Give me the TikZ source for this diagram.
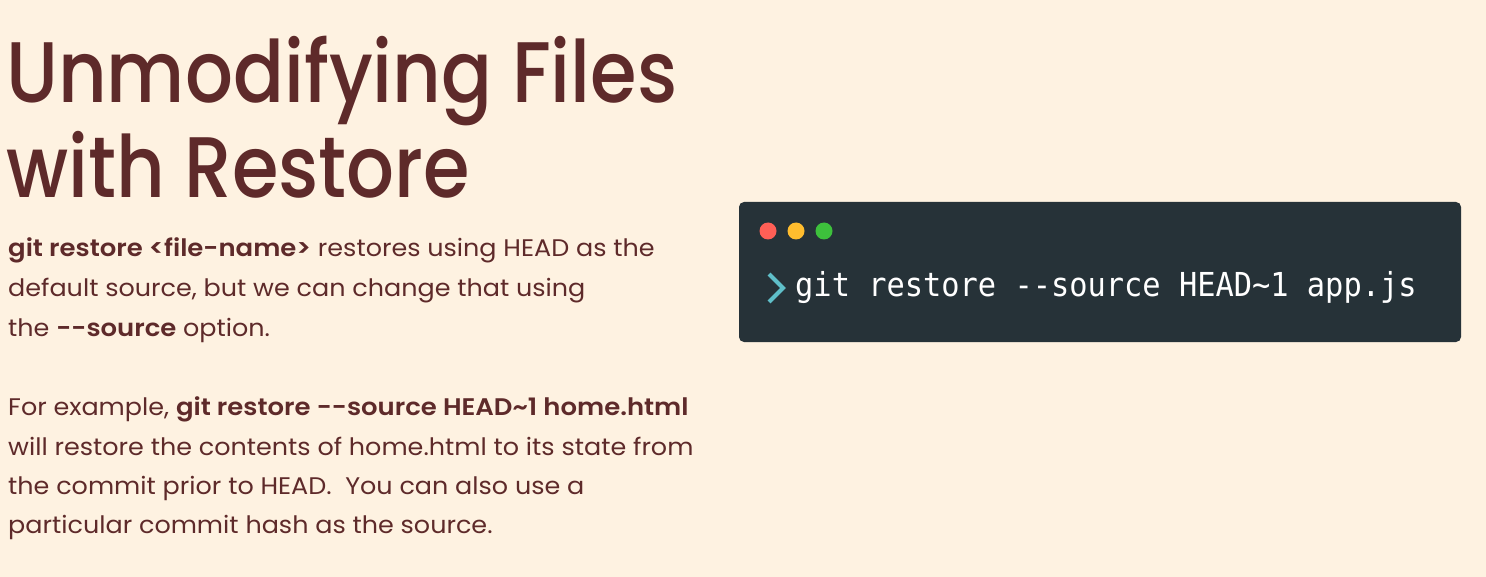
\documentclass[tikz,border=0pt]{standalone}
\usepackage{fontspec}
\IfFontExistsTF{Poppins SemiBold}{%
  \setmainfont[FakeStretch=1.06, BoldFont={Poppins SemiBold}, BoldFeatures={FakeStretch=1.08}]{Poppins}}{%
  \setmainfont[FakeStretch=1.06]{Poppins}}
\IfFontExistsTF{Poppins Medium}{%
  \newfontfamily\titlef[FakeStretch=0.875]{Poppins Medium}}{%
  \newfontfamily\titlef[FakeStretch=0.88, FakeBold=1.2]{Poppins}}
\newfontfamily\monof[FakeStretch=0.92]{DejaVu Sans Mono}
\definecolor{bgc}{HTML}{FEF2E1}
\definecolor{txt}{HTML}{5E2A2A}
\definecolor{term}{HTML}{263238}
\definecolor{dred}{HTML}{FF5F56}
\definecolor{dyel}{HTML}{FFBD2E}
\definecolor{dgrn}{HTML}{3DC13C}
\definecolor{chev}{HTML}{5FBFC9}
\tikzset{
  title/.style={anchor=base west, inner sep=0pt, text=txt, font=\titlef\fontsize{86}{90}\selectfont},
  body/.style={anchor=base west, inner sep=0pt, text=txt, font=\fontsize{24}{28}\selectfont},
  cmd/.style={anchor=base west, inner sep=0pt, text=white, font=\monof\fontsize{33}{36}\selectfont},
  dot/.style={circle, inner sep=0pt, minimum size=17pt}
}
\begin{document}
\begin{tikzpicture}[x=1pt,y=-1pt]
\fill[bgc] (0,0) rectangle (1486,577);
\useasboundingbox (0,0) rectangle (1486,577);
\node[title] (t1) at (6,103) {Unmodifying Files};
\node[title] (t2) at (6,198) {with Restore};
\node[body] (p1) at (8,257) {\textbf{git restore <file-name>} restores using HEAD as the};
\node[body] (p2) at (8,297) {default source, but we can change that using};
\node[body] (p3) at (8,337) {the \textbf{-{}-source} option.};
\node[body] (q1) at (8,415) {For example, \textbf{git restore -{}-source HEAD\textasciitilde 1 home.html}};
\node[body] (q2) at (8,455) {will restore the contents of home.html to its state from};
\node[body] (q3) at (8,494) {the commit prior to HEAD.\ \ You can also use a};
\node[body] (q4) at (8,533) {particular commit hash as the source.};
\fill[term, rounded corners=5pt] (739,202) rectangle (1461,342);
\node[dot, fill=dred] (d1) at (768,231) {};
\node[dot, fill=dyel] (d2) at (796,231) {};
\node[dot, fill=dgrn] (d3) at (824,231) {};
\draw[chev, line width=4pt] (769,274) -- (783,288) -- (769,302);
\node[cmd] (c) at (795,297) {git restore -{}-source HEAD\textasciitilde 1 app.js};
\end{tikzpicture}
\end{document}
